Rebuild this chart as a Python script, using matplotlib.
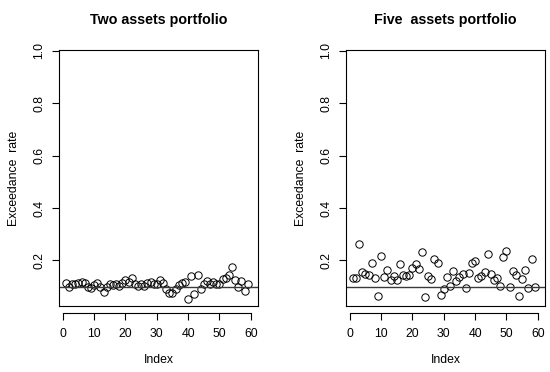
import matplotlib

matplotlib.use("Agg")

import matplotlib.pyplot as plt
import numpy as np

# exceedance rates per index
two_assets = [
    0.114, 0.099, 0.111, 0.111, 0.114, 0.116, 0.114, 0.100, 0.094, 0.105,
    0.112, 0.100, 0.079, 0.099, 0.111, 0.108, 0.110, 0.104, 0.113, 0.126,
    0.116, 0.133, 0.111, 0.103, 0.111, 0.104, 0.114, 0.118, 0.111, 0.111,
    0.124, 0.112, 0.091, 0.076, 0.076, 0.089, 0.106, 0.113, 0.116, 0.054,
    0.139, 0.070, 0.145, 0.089, 0.110, 0.120, 0.110, 0.116, 0.110, 0.110,
    0.130, 0.134, 0.145, 0.174, 0.124, 0.100, 0.120, 0.082, 0.110,
]
five_assets = [
    0.132, 0.132, 0.264, 0.155, 0.148, 0.146, 0.189, 0.132, 0.063, 0.218,
    0.137, 0.163, 0.126, 0.140, 0.125, 0.185, 0.145, 0.142, 0.145, 0.172,
    0.185, 0.167, 0.233, 0.062, 0.140, 0.129, 0.205, 0.189, 0.069, 0.092,
    0.135, 0.101, 0.160, 0.120, 0.135, 0.147, 0.095, 0.151, 0.189, 0.199,
    0.132, 0.140, 0.157, 0.223, 0.150, 0.126, 0.132, 0.104, 0.214, 0.235,
    0.098, 0.161, 0.143, 0.065, 0.130, 0.164, 0.096, 0.205, 0.100,
]
titles = ["Two assets portfolio", "Five  assets portfolio"]
nominal_level = 0.1
x_ticks = [0, 10, 20, 30, 40, 50, 60]
y_ticks = [0.2, 0.4, 0.6, 0.8, 1.0]

plt.rcParams.update(
    {
        "font.family": ["Liberation Sans", "DejaVu Sans"],
        "font.size": 8.8,
    }
)

W, H = 550, 372
fig = plt.figure(figsize=(W / 100, H / 100), dpi=100)
fig.patch.set_facecolor("white")

box_top, box_bottom = 50, 306
box_w = 199
lefts = [59, 346]

for left, values, title in zip(lefts, [two_assets, five_assets], titles):
    ax = fig.add_axes(
        [left / W, (H - box_bottom) / H, box_w / W, (box_bottom - box_top) / H]
    )
    idx = np.arange(1, len(values) + 1)
    ax.plot(
        idx,
        values,
        linestyle="none",
        marker="o",
        markersize=5.3,
        markerfacecolor="none",
        markeredgecolor="black",
        markeredgewidth=0.7,
    )
    ax.axhline(nominal_level, color="#3a3a3a", linewidth=1.0)

    ax.set_xlim(-1.2, 62.3)
    ax.set_ylim(0.026, 1.003)
    ax.set_xticks(x_ticks)
    ax.set_yticks(y_ticks)
    ax.set_yticklabels([f"{t:.1f}" for t in y_ticks])

    for side in ["left", "top", "right"]:
        ax.spines[side].set_linewidth(0.8)
    # R-style x axis: detached from the box, spanning the tick range only
    ax.spines["bottom"].set_position(("outward", 5))
    ax.spines["bottom"].set_bounds(x_ticks[0], x_ticks[-1])
    ax.spines["bottom"].set_linewidth(0.8)
    ax.plot([0, 1], [0, 0], transform=ax.transAxes, color="black",
            linewidth=0.8, clip_on=False)

    ax.tick_params(axis="both", length=5, width=0.8, color="black")
    ax.tick_params(axis="x", pad=6)
    ax.tick_params(axis="y", pad=5)
    for lab in ax.get_yticklabels():
        lab.set_rotation(90)
        lab.set_verticalalignment("center")

    ax.set_xlabel("Index", va="center")
    ax.xaxis.set_label_coords(0.5, (box_bottom - 360) / (box_bottom - box_top))
    ax.set_ylabel("Exceedance  rate", va="center")
    ax.yaxis.set_label_coords((14 - 59) / box_w, 0.5)

    ax.set_title(title, fontweight="bold", fontsize=10.3, pad=19)

fig.savefig("out.png", dpi=100, facecolor="white")
